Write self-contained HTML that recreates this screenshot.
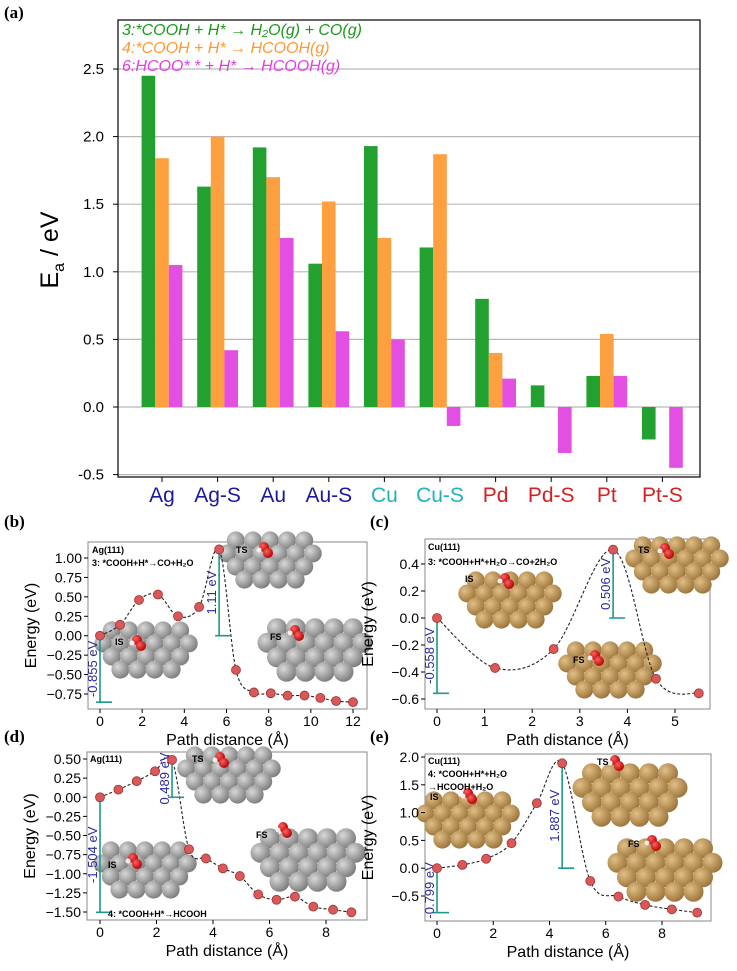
<!DOCTYPE html>
<html><head><meta charset="utf-8"><style>
body{margin:0;background:#fff;}
svg{display:block;font-family:"Liberation Sans",sans-serif;}
</style></head><body>
<svg id="fig" width="737" height="971" viewBox="0 0 737 971">
<defs>
<radialGradient id="gAg" cx="35%" cy="35%" r="70%"><stop offset="0" stop-color="#d8d8d8"/><stop offset="1" stop-color="#7a7a7a"/></radialGradient>
<radialGradient id="gCu" cx="35%" cy="35%" r="70%"><stop offset="0" stop-color="#e0bf86"/><stop offset="1" stop-color="#9a7238"/></radialGradient>
<radialGradient id="gO" cx="35%" cy="35%" r="70%"><stop offset="0" stop-color="#ff6060"/><stop offset="1" stop-color="#b00000"/></radialGradient>
</defs>
<g id="panelA"></g>
<g id="panels"></g>
</svg>
<script>
const NS="http://www.w3.org/2000/svg";
function mk(tag,attrs,parent,text){const e=document.createElementNS(NS,tag);for(const k in attrs)e.setAttribute(k,attrs[k]);if(text!==undefined)e.textContent=text;parent.appendChild(e);return e;}

// ---------- Panel (a) data ----------
const categories=["Ag","Ag-S","Au","Au-S","Cu","Cu-S","Pd","Pd-S","Pt","Pt-S"];
const catColors=["#1a1aa0","#1a1aa0","#1a1aa0","#1a1aa0","#20b0c0","#20b0c0","#d42020","#d42020","#d42020","#d42020"];
const series3=[2.45,1.63,1.92,1.06,1.93,1.18,0.80,0.16,0.23,-0.24];
const series4=[1.84,2.00,1.70,1.52,1.25,1.87,0.40,0,0.54,0];
const series6=[1.05,0.42,1.25,0.56,0.50,-0.14,0.21,-0.34,0.23,-0.45];
const yTicksA=[-0.5,0.0,0.5,1.0,1.5,2.0,2.5];

const A=document.getElementById('panelA');
const ax0=118,ax1=700,ay0=20,ay1=477;
const yA=v=>407-v*135.2;
const xA=i=>162+i*55.6;
mk('text',{x:4,y:18,'font-family':'Liberation Serif','font-weight':'bold','font-size':17},A,'(a)');
yTicksA.forEach(t=>{
  const l=mk('line',{x1:ax0,x2:ax1,y1:yA(t),y2:yA(t),stroke:'#b8b8b8','stroke-width':1.2},A);
  
  mk('line',{x1:ax0-5,x2:ax0,y1:yA(t),y2:yA(t),stroke:'#000'},A);
  const tl=mk('text',{x:ax0-14,y:yA(t)+5,'text-anchor':'end','font-size':15},A,t.toFixed(1));
  
});
const sers=[[series3,'#22a030'],[series4,'#ffa040'],[series6,'#e24fe2']];
sers.forEach((s,si)=>{
  s[0].forEach((v,i)=>{
    if(v===0)return;
    const x=xA(i)+(si-1)*13.6-6.8;
    const r=mk('rect',{x:x,y:Math.min(yA(v),yA(0)),width:13.6,height:Math.abs(yA(v)-yA(0)),fill:s[1]},A);
    
    
  });
});
mk('rect',{x:ax0,y:ay0,width:ax1-ax0,height:ay1-ay0,fill:'none',stroke:'#000','stroke-width':1.2},A);
categories.forEach((c,i)=>{
  mk('line',{x1:xA(i),x2:xA(i),y1:ay1,y2:ay1+5,stroke:'#000'},A);
  const t=mk('text',{x:xA(i),y:502,'text-anchor':'middle','font-size':21,fill:catColors[i]},A,c);
  
});
const yt=mk('text',{transform:'translate(58,250) rotate(-90)','text-anchor':'middle','font-size':25},A);

mk('tspan',{},yt,'E');mk('tspan',{'font-size':16,dy:6},yt,'a');mk('tspan',{dy:-6},yt,' / eV');
const legend=[["3:*COOH + H* → H₂O(g) + CO(g)",'#1a9a1a'],["4:*COOH + H* → HCOOH(g)",'#ff9933'],["6:HCOO* * + H* → HCOOH(g)",'#e040e0']];
legend.forEach((l,i)=>{
  const t=mk('text',{x:122,y:35+i*18,'font-size':16,'font-style':'italic',fill:l[1]},A,l[0]);
  
});

// ---------- Energy profiles ----------
const bX=[0,0.95,1.85,2.75,3.7,4.7,5.65,6.45,7.3,8.1,8.9,9.7,10.45,11.2,12];
const bE=[0,0.14,0.46,0.53,0.25,0.37,1.11,-0.44,-0.73,-0.74,-0.77,-0.77,-0.80,-0.84,-0.855];
const cX=[0,1.22,2.45,3.7,4.6,5.5];
const cE=[0,-0.37,-0.23,0.506,-0.45,-0.558];
const dX=[0,0.65,1.3,1.95,2.55,3.15,3.75,4.35,4.95,5.6,6.25,6.9,7.55,8.25,8.9];
const dE=[0,0.1,0.21,0.34,0.489,-0.68,-0.80,-0.93,-1.03,-1.27,-1.34,-1.30,-1.43,-1.47,-1.504];
const eX=[0,0.9,1.75,2.65,3.55,4.45,5.45,6.45,7.4,8.35,9.25];
const eE=[0,0.06,0.17,0.45,1.17,1.887,-0.23,-0.51,-0.66,-0.74,-0.799];
const bTicksX=[0,2,4,6,8,10,12], bTicksY=[-0.75,-0.5,-0.25,0,0.25,0.5,0.75,1.0];
const cTicksX=[0,1,2,3,4,5], cTicksY=[-0.6,-0.4,-0.2,0,0.2,0.4];
const dTicksX=[0,2,4,6,8], dTicksY=[-1.5,-1.25,-1.0,-0.75,-0.5,-0.25,0,0.25,0.5];
const eTicksX=[0,2,4,6,8], eTicksY=[-0.5,0,0.5,1.0,1.5,2.0];

const P=document.getElementById('panels');
function cluster(g,cx,cy,metal,big){
  const r=big?10:9;
  const rows=[[-2,-1,0,1,2],[-2.5,-1.5,-0.5,0.5,1.5,2.5],[-2,-1,0,1,2],[-1.5,-0.5,0.5,1.5]];
  rows.forEach((row,ri)=>row.forEach(k=>{
    mk('circle',{cx:cx+k*r*1.9,cy:cy+(ri-1.5)*r*1.45,r:r,fill:'url(#g'+metal+')'},g);
  }));
}
function mol(g,x,y){mk('circle',{cx:x,cy:y,r:5,fill:'url(#gO)'},g);mk('circle',{cx:x+4,cy:y+6,r:5,fill:'url(#gO)'},g);mk('circle',{cx:x-5,cy:y+3,r:2.5,fill:'#eee'},g);}

function panel(o){
  const g=mk('g',{},P);
  
  const sx=v=>o.x0px+(v-o.xr[0])*(o.x1px-o.x0px)/(o.xr[1]-o.xr[0]);
  const sy=v=>o.y0px+(v-o.yr[0])*(o.y1px-o.y0px)/(o.yr[1]-o.yr[0]);
  mk('text',{x:o.lx,y:o.ly,'font-family':'Liberation Serif','font-weight':'bold','font-size':17},g,o.label);
  mk('rect',{x:o.L,y:o.T,width:o.R-o.L,height:o.B-o.T,fill:'#fff',stroke:'#888','stroke-width':1},g);
  o.clusters.forEach(c=>{cluster(g,c[0],c[1],o.metal,c[2]);mol(g,c[3],c[4]);mk('text',{x:c[5],y:c[6],'font-size':9,'font-weight':'bold'},g,c[7]);});
  o.xt.forEach(t=>{mk('line',{x1:sx(t),x2:sx(t),y1:o.B,y2:o.B+4,stroke:'#000'},g);
    const tl=mk('text',{x:sx(t),y:o.B+17,'text-anchor':'middle','font-size':14},g,String(t));});
  o.yt.forEach(t=>{mk('line',{x1:o.L-4,x2:o.L,y1:sy(t),y2:sy(t),stroke:'#000'},g);
    const tl=mk('text',{x:o.L-6,y:sy(t)+5,'text-anchor':'end','font-size':14},g,(o.fmt?t.toFixed(o.fmt):t.toFixed(1)).replace('-','−'));});
  const xl=mk('text',{x:(o.L+o.R)/2,y:o.B+36,'text-anchor':'middle','font-size':16},g,'Path distance (Å)');
  const yl=mk('text',{transform:`translate(${o.L-52},${(o.T+o.B)/2}) rotate(-90)`,'text-anchor':'middle','font-size':16},g,'Energy (eV)');
  const pts=o.X.map((x,i)=>[sx(x),sy(o.E[i])]);
  let d='M'+pts[0][0]+','+pts[0][1];
  for(let i=0;i<pts.length-1;i++){const p0=pts[Math.max(0,i-1)],p1=pts[i],p2=pts[i+1],p3=pts[Math.min(pts.length-1,i+2)];
    d+=` C${p1[0]+(p2[0]-p0[0])/6},${p1[1]+(p2[1]-p0[1])/6} ${p2[0]-(p3[0]-p1[0])/6},${p2[1]-(p3[1]-p1[1])/6} ${p2[0]},${p2[1]}`;}
  const c=mk('path',{d:d,fill:'none',stroke:'#222','stroke-width':1.1,'stroke-dasharray':'3,2'},g);
  
  o.ann.forEach(a=>{const x=sx(a[0]);
    mk('line',{x1:x,x2:x,y1:sy(a[1]),y2:sy(a[2]),stroke:'#1a9a8a','stroke-width':1.6},g);
    mk('line',{x1:x-4,x2:x+12,y1:sy(a[2]),y2:sy(a[2]),stroke:'#1a9a8a','stroke-width':1.6},g);
    const my=(sy(a[1])+sy(a[2]))/2;
    mk('text',{transform:`translate(${x-3},${my}) rotate(-90)`,'text-anchor':'middle','font-size':13,fill:'#2a2aa0'},g,a[3]);});
  pts.forEach(p=>{const m=mk('circle',{cx:p[0],cy:p[1],r:4.5,fill:'#d9585a',stroke:'#a03030','stroke-width':0.8},g);
    });
  o.notes.forEach(n=>mk('text',{x:n[0],y:n[1],'font-size':9,'font-weight':'bold'},g,n[2]));
}
panel({name:'panel-b',label:'(b)',lx:4,ly:527,L:88,R:367,T:542,B:709,x0px:100,x1px:353,xr:[0,12],y0px:558,y1px:694,yr:[1,-0.75],xt:bTicksX,yt:bTicksY,fmt:2,X:bX,E:bE,metal:'Ag',
  clusters:[[270,560,false,264,547,236,553,'TS'],[146,650,false,137,640,115,645,'IS'],[315,650,true,295,630,270,640,'FS']],
  ann:[[0,0,-0.855,'-0.855 eV'],[5.65,1.11,0,'1.11 eV']],notes:[[92,553,'Ag(111)'],[92,566,'3: *COOH+H*→CO+H₂O']]});
panel({name:'panel-c',label:'(c)',lx:370,ly:527,L:425,R:710,T:539,B:709,x0px:437,x1px:675,xr:[0,5],y0px:564,y1px:699,yr:[0.4,-0.6],xt:cTicksX,yt:cTicksY,fmt:1,X:cX,E:cE,metal:'Cu',
  clusters:[[510,600,false,505,578,465,582,'IS'],[677,565,false,665,548,638,553,'TS'],[610,670,false,595,655,573,663,'FS']],
  ann:[[0,0,-0.558,'-0.558 eV'],[3.7,0.506,0,'0.506 eV']],notes:[[428,550,'Cu(111)'],[428,565,'3: *COOH+H*+H₂O→CO+2H₂O']]});
panel({name:'panel-d',label:'(d)',lx:4,ly:742,L:87,R:367,T:752,B:920,x0px:100,x1px:326,xr:[0,8],y0px:759,y1px:912,yr:[0.5,-1.5],xt:dTicksX,yt:dTicksY,fmt:2,X:dX,E:dE,metal:'Ag',
  clusters:[[229,775,false,220,757,192,762,'TS'],[145,870,false,133,858,108,868,'IS'],[308,860,true,283,827,256,838,'FS']],
  ann:[[0,0,-1.504,'-1.504 eV'],[2.55,0.489,0,'0.489 eV']],notes:[[90,762,'Ag(111)'],[108,917,'4: *COOH+H*→HCOOH']]});
panel({name:'panel-e',label:'(e)',lx:370,ly:742,L:425,R:711,T:754,B:921,x0px:437,x1px:662,xr:[0,8],y0px:757,y1px:896,yr:[2,-0.5],xt:eTicksX,yt:eTicksY,fmt:1,X:eX,E:eE,metal:'Cu',
  clusters:[[468,820,false,468,793,430,800,'IS'],[630,795,true,615,760,597,765,'TS'],[665,870,true,652,840,628,847,'FS']],
  ann:[[0,0,-0.799,'-0.799 eV'],[4.45,1.887,0,'1.887 eV']],notes:[[428,764,'Cu(111)'],[428,777,'4: *COOH+H*+H₂O'],[428,790,'→HCOOH+H₂O']]});
</script>
</body></html>
